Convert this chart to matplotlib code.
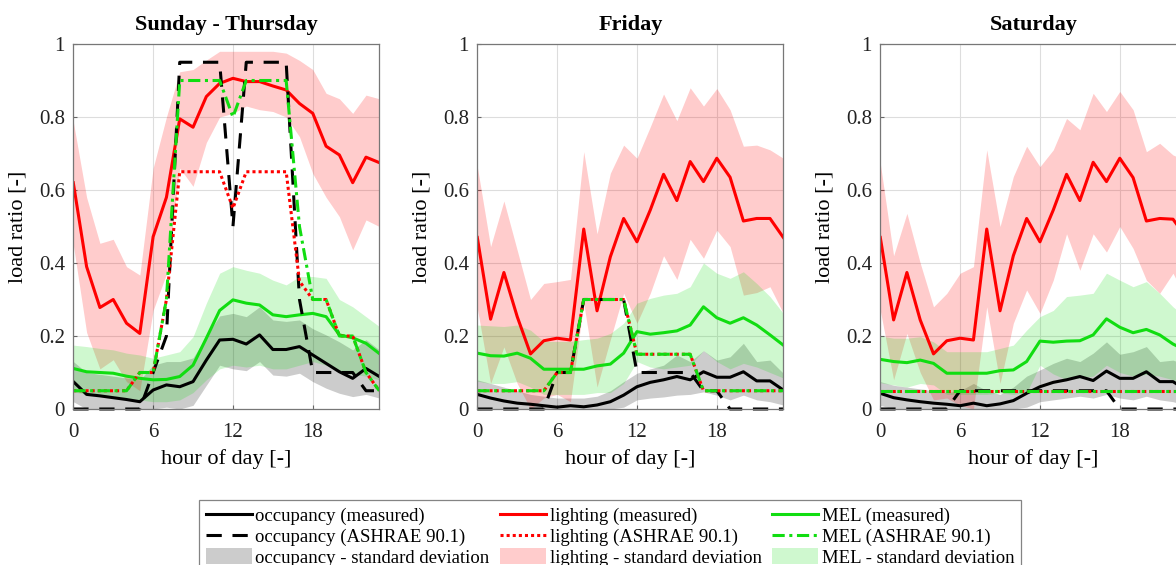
import numpy as np
import matplotlib
matplotlib.use("Agg")
import matplotlib.pyplot as plt
from matplotlib.lines import Line2D
from matplotlib.patches import Patch

plt.rcParams["font.family"] = ["Liberation Serif", "DejaVu Serif"]

hours = np.arange(24)

# ---- Sunday - Thursday ----
occ_mean_st = [0.075, 0.040, 0.036, 0.031, 0.026, 0.020, 0.052, 0.066, 0.061, 0.075, 0.134, 0.189,
               0.191, 0.178, 0.203, 0.163, 0.163, 0.171, 0.148, 0.125, 0.102, 0.084, 0.111, 0.089]
occ_hi_st = [0.130, 0.100, 0.095, 0.090, 0.085, 0.080, 0.120, 0.130, 0.130, 0.140, 0.200, 0.255,
             0.262, 0.253, 0.280, 0.244, 0.240, 0.244, 0.220, 0.203, 0.184, 0.162, 0.190, 0.162]
occ_lo_st = [0.020, 0.000, 0.000, 0.000, 0.000, 0.000, 0.000, 0.005, 0.000, 0.010, 0.065, 0.120,
             0.110, 0.105, 0.130, 0.093, 0.090, 0.098, 0.075, 0.057, 0.043, 0.034, 0.040, 0.030]
light_mean_st = [0.620, 0.390, 0.278, 0.300, 0.235, 0.207, 0.472, 0.580, 0.795, 0.772, 0.856, 0.892,
                 0.906, 0.897, 0.897, 0.885, 0.874, 0.837, 0.810, 0.720, 0.696, 0.620, 0.690, 0.675]
light_hi_st = [0.787, 0.580, 0.454, 0.465, 0.390, 0.367, 0.660, 0.800, 0.924, 0.930, 0.956, 0.980,
               0.980, 0.980, 0.980, 0.980, 0.975, 0.955, 0.930, 0.865, 0.850, 0.810, 0.860, 0.850]
light_lo_st = [0.450, 0.210, 0.110, 0.135, 0.075, 0.050, 0.270, 0.370, 0.660, 0.610, 0.730, 0.800,
               0.810, 0.830, 0.820, 0.815, 0.800, 0.746, 0.645, 0.580, 0.527, 0.436, 0.518, 0.500]
mel_mean_st = [0.111, 0.102, 0.100, 0.098, 0.090, 0.084, 0.080, 0.081, 0.089, 0.120, 0.194, 0.270,
               0.299, 0.290, 0.285, 0.258, 0.253, 0.258, 0.262, 0.253, 0.203, 0.195, 0.180, 0.152]
mel_hi_st = [0.175, 0.171, 0.166, 0.162, 0.153, 0.148, 0.139, 0.148, 0.157, 0.198, 0.290, 0.372,
             0.390, 0.380, 0.372, 0.353, 0.340, 0.363, 0.363, 0.358, 0.300, 0.280, 0.253, 0.226]
mel_lo_st = [0.047, 0.040, 0.040, 0.035, 0.030, 0.025, 0.020, 0.020, 0.025, 0.045, 0.080, 0.110,
             0.120, 0.115, 0.120, 0.110, 0.110, 0.120, 0.130, 0.120, 0.100, 0.095, 0.090, 0.080]
occ_ashrae_st = [0, 0, 0, 0, 0, 0, 0.1, 0.2, 0.95, 0.95, 0.95, 0.95,
                 0.5, 0.95, 0.95, 0.95, 0.95, 0.3, 0.1, 0.1, 0.1, 0.1, 0.05, 0.05]
light_ashrae_st = [0.05, 0.05, 0.05, 0.05, 0.05, 0.1, 0.1, 0.3, 0.65, 0.65, 0.65, 0.65,
                   0.55, 0.65, 0.65, 0.65, 0.65, 0.35, 0.3, 0.3, 0.2, 0.2, 0.1, 0.05]
mel_ashrae_st = [0.05, 0.05, 0.05, 0.05, 0.05, 0.1, 0.1, 0.3, 0.9, 0.9, 0.9, 0.9,
                 0.8, 0.9, 0.9, 0.9, 0.9, 0.5, 0.3, 0.3, 0.2, 0.2, 0.1, 0.05]

# ---- Friday ----
occ_mean_fr = [0.040, 0.030, 0.022, 0.016, 0.013, 0.009, 0.005, 0.009, 0.006, 0.011, 0.020, 0.038,
               0.061, 0.073, 0.080, 0.089, 0.080, 0.102, 0.087, 0.087, 0.102, 0.077, 0.077, 0.052]
occ_hi_fr = [0.080, 0.070, 0.060, 0.050, 0.040, 0.035, 0.030, 0.030, 0.030, 0.035, 0.050, 0.075,
             0.098, 0.110, 0.120, 0.148, 0.130, 0.160, 0.134, 0.143, 0.180, 0.130, 0.134, 0.098]
occ_lo_fr = [0.000, 0.000, 0.000, 0.000, 0.000, 0.000, 0.000, 0.000, 0.000, 0.000, 0.000, 0.005,
             0.025, 0.030, 0.033, 0.038, 0.040, 0.047, 0.038, 0.025, 0.038, 0.025, 0.020, 0.011]
light_mean_fr = [0.470, 0.246, 0.374, 0.253, 0.151, 0.187, 0.194, 0.189, 0.493, 0.269, 0.417, 0.522,
                 0.458, 0.545, 0.643, 0.571, 0.678, 0.623, 0.687, 0.635, 0.515, 0.522, 0.522, 0.470]
light_hi_fr = [0.664, 0.445, 0.570, 0.435, 0.300, 0.344, 0.349, 0.355, 0.705, 0.480, 0.646, 0.723,
               0.687, 0.773, 0.863, 0.790, 0.880, 0.830, 0.878, 0.820, 0.720, 0.723, 0.710, 0.687]
light_lo_fr = [0.276, 0.070, 0.170, 0.070, 0.000, 0.030, 0.040, 0.020, 0.290, 0.060, 0.190, 0.317,
               0.235, 0.317, 0.420, 0.355, 0.465, 0.413, 0.490, 0.445, 0.312, 0.319, 0.335, 0.262]
mel_mean_fr = [0.153, 0.146, 0.145, 0.153, 0.139, 0.109, 0.109, 0.109, 0.109, 0.118, 0.123, 0.153,
               0.212, 0.205, 0.209, 0.214, 0.230, 0.280, 0.250, 0.235, 0.250, 0.230, 0.203, 0.175]
mel_hi_fr = [0.230, 0.228, 0.226, 0.230, 0.216, 0.185, 0.185, 0.185, 0.190, 0.194, 0.207, 0.235,
             0.290, 0.303, 0.312, 0.317, 0.335, 0.400, 0.372, 0.358, 0.376, 0.344, 0.308, 0.262]
mel_lo_fr = [0.076, 0.070, 0.070, 0.075, 0.060, 0.040, 0.040, 0.040, 0.040, 0.045, 0.045, 0.070,
             0.130, 0.115, 0.110, 0.115, 0.120, 0.160, 0.130, 0.110, 0.125, 0.115, 0.100, 0.085]
occ_ashrae_fr = [0, 0, 0, 0, 0, 0, 0.1, 0.1, 0.3, 0.3, 0.3, 0.3,
                 0.1, 0.1, 0.1, 0.1, 0.1, 0.05, 0.05, 0, 0, 0, 0, 0]
light_ashrae_fr = [0.05, 0.05, 0.05, 0.05, 0.05, 0.05, 0.1, 0.1, 0.3, 0.3, 0.3, 0.3,
                   0.15, 0.15, 0.15, 0.15, 0.15, 0.05, 0.05, 0.05, 0.05, 0.05, 0.05, 0.05]
mel_ashrae_fr = [0.05, 0.05, 0.05, 0.05, 0.05, 0.05, 0.1, 0.1, 0.3, 0.3, 0.3, 0.3,
                 0.15, 0.15, 0.15, 0.15, 0.15, 0.05, 0.05, 0.05, 0.05, 0.05, 0.05, 0.05]

# ---- Saturday ----
occ_mean_sa = [0.043, 0.031, 0.025, 0.020, 0.016, 0.013, 0.009, 0.016, 0.009, 0.014, 0.023, 0.043,
               0.061, 0.073, 0.080, 0.089, 0.078, 0.104, 0.084, 0.084, 0.102, 0.075, 0.075, 0.052]
occ_hi_sa = [0.075, 0.065, 0.060, 0.055, 0.050, 0.045, 0.050, 0.070, 0.050, 0.040, 0.060, 0.090,
             0.107, 0.125, 0.139, 0.130, 0.153, 0.184, 0.150, 0.157, 0.171, 0.130, 0.134, 0.120]
occ_lo_sa = [0.010, 0.000, 0.000, 0.000, 0.000, 0.000, 0.000, 0.000, 0.000, 0.000, 0.000, 0.005,
             0.020, 0.025, 0.030, 0.035, 0.030, 0.040, 0.030, 0.025, 0.035, 0.025, 0.020, 0.010]
light_mean_sa = [0.470, 0.244, 0.374, 0.244, 0.151, 0.187, 0.194, 0.189, 0.493, 0.269, 0.420, 0.522,
                 0.458, 0.545, 0.643, 0.571, 0.676, 0.623, 0.687, 0.634, 0.515, 0.522, 0.520, 0.470]
light_hi_sa = [0.673, 0.420, 0.536, 0.400, 0.280, 0.317, 0.372, 0.390, 0.710, 0.500, 0.637, 0.720,
               0.664, 0.710, 0.796, 0.765, 0.865, 0.815, 0.870, 0.820, 0.705, 0.728, 0.696, 0.680]
light_lo_sa = [0.270, 0.080, 0.207, 0.100, 0.025, 0.030, 0.010, 0.000, 0.280, 0.070, 0.235, 0.326,
               0.262, 0.353, 0.480, 0.380, 0.480, 0.430, 0.500, 0.440, 0.353, 0.317, 0.372, 0.300]
mel_mean_sa = [0.136, 0.130, 0.127, 0.134, 0.125, 0.098, 0.098, 0.098, 0.098, 0.105, 0.107, 0.130,
               0.186, 0.183, 0.186, 0.187, 0.203, 0.247, 0.224, 0.209, 0.218, 0.203, 0.178, 0.160]
mel_hi_sa = [0.200, 0.194, 0.194, 0.198, 0.184, 0.157, 0.157, 0.157, 0.157, 0.166, 0.175, 0.216,
             0.253, 0.270, 0.308, 0.312, 0.317, 0.372, 0.353, 0.335, 0.349, 0.317, 0.280, 0.250]
mel_lo_sa = [0.072, 0.066, 0.060, 0.070, 0.066, 0.040, 0.040, 0.040, 0.040, 0.044, 0.040, 0.045,
             0.120, 0.096, 0.080, 0.085, 0.090, 0.120, 0.100, 0.090, 0.095, 0.090, 0.080, 0.070]
occ_ashrae_sa = [0, 0, 0, 0, 0, 0, 0.05, 0.05, 0.05, 0.05, 0.05, 0.05,
                 0.05, 0.05, 0.05, 0.05, 0.05, 0.05, 0, 0, 0, 0, 0, 0]
light_ashrae_sa = [0.05] * 24
mel_ashrae_sa = [0.05] * 24

panel_titles = ["Sunday - Thursday", "Friday", "Saturday"]
x_ticks = [0, 6, 12, 18]
y_ticks = [0, 0.2, 0.4, 0.6, 0.8, 1]
y_ticklabels = ["0", "0.2", "0.4", "0.6", "0.8", "1"]

panels = [
    dict(occ=(occ_mean_st, occ_lo_st, occ_hi_st, occ_ashrae_st),
         light=(light_mean_st, light_lo_st, light_hi_st, light_ashrae_st),
         mel=(mel_mean_st, mel_lo_st, mel_hi_st, mel_ashrae_st)),
    dict(occ=(occ_mean_fr, occ_lo_fr, occ_hi_fr, occ_ashrae_fr),
         light=(light_mean_fr, light_lo_fr, light_hi_fr, light_ashrae_fr),
         mel=(mel_mean_fr, mel_lo_fr, mel_hi_fr, mel_ashrae_fr)),
    dict(occ=(occ_mean_sa, occ_lo_sa, occ_hi_sa, occ_ashrae_sa),
         light=(light_mean_sa, light_lo_sa, light_hi_sa, light_ashrae_sa),
         mel=(mel_mean_sa, mel_lo_sa, mel_hi_sa, mel_ashrae_sa)),
]

c_occ = "black"
c_light = "#ff0000"
c_mel = "#11dd11"
fill_alpha = 0.2
lw = 2.2
ls_dash = (0, (5, 3.5))
ls_dot = (0, (1, 1))
ls_dashdot = (0, (4, 1.5, 1, 1.5))

W, H = 1176, 565
fig = plt.figure(figsize=(W / 100, H / 100), dpi=100)

ax_lefts = [73.3, 477.3, 880.3]
ax_w, ax_top, ax_bot = 306.0, 44.0, 409.0

for i, (left, title, p) in enumerate(zip(ax_lefts, panel_titles, panels)):
    ax = fig.add_axes([left / W, (H - ax_bot) / H, ax_w / W, (ax_bot - ax_top) / H])
    om, ol, oh, oa = p["occ"]
    lm, ll, lh, la = p["light"]
    mm, ml, mh, ma = p["mel"]
    ax.fill_between(hours, ol, oh, color=c_occ, alpha=fill_alpha, lw=0)
    ax.fill_between(hours, ll, lh, color=c_light, alpha=fill_alpha, lw=0)
    ax.fill_between(hours, ml, mh, color=c_mel, alpha=fill_alpha, lw=0)
    ax.plot(hours, om, color=c_occ, lw=lw)
    ax.plot(hours, lm, color=c_light, lw=lw)
    ax.plot(hours, mm, color=c_mel, lw=lw)
    ax.plot(hours, oa, color=c_occ, lw=lw, ls=ls_dash, clip_on=False)
    ax.plot(hours, la, color=c_light, lw=lw, ls=ls_dot)
    ax.plot(hours, ma, color=c_mel, lw=lw, ls=ls_dashdot)
    ax.set_xlim(0, 23)
    ax.set_ylim(0, 1)
    ax.set_xticks(x_ticks)
    ax.set_yticks(y_ticks)
    ax.set_yticklabels(y_ticklabels)
    ax.tick_params(direction="in", length=3, labelsize=15, colors="#222222",
                   color="#666666")
    ax.tick_params(axis="y", pad=6)
    ax.tick_params(axis="x", pad=10)
    ax.grid(True, color="#dddddd", lw=0.8)
    ax.set_axisbelow(True)
    for s in ax.spines.values():
        s.set_color("#777777")
        s.set_linewidth(0.9)
    ax.set_title(title, fontsize=16, fontweight="bold", pad=10)
    ax.set_xlabel("hour of day [-]", fontsize=16, labelpad=5)
    ax.set_ylabel("load ratio [-]", fontsize=16, labelpad=8)

handles = [
    Line2D([], [], color=c_occ, lw=lw),
    Line2D([], [], color=c_occ, lw=lw, ls=ls_dash),
    Patch(facecolor=c_occ, alpha=fill_alpha, lw=0),
    Line2D([], [], color=c_light, lw=lw),
    Line2D([], [], color=c_light, lw=lw, ls=ls_dot),
    Patch(facecolor=c_light, alpha=fill_alpha, lw=0),
    Line2D([], [], color=c_mel, lw=lw),
    Line2D([], [], color=c_mel, lw=lw, ls=ls_dashdot),
    Patch(facecolor=c_mel, alpha=fill_alpha, lw=0),
]
labels = [
    "occupancy (measured)", "occupancy (ASHRAE 90.1)", "occupancy - standard deviation",
    "lighting (measured)", "lighting (ASHRAE 90.1)", "lighting - standard deviation",
    "MEL (measured)", "MEL (ASHRAE 90.1)", "MEL - standard deviation",
]
leg = fig.legend(handles, labels, ncol=3, loc="upper left",
                 bbox_to_anchor=(199 / W, 1 - 500 / H), fontsize=13.5,
                 frameon=True, fancybox=False, edgecolor="#666666",
                 handlelength=2.45, handleheight=0.95, handletextpad=0.2,
                 columnspacing=0.55, labelspacing=0.12, borderpad=0.35,
                 borderaxespad=0)
leg.get_frame().set_linewidth(0.9)

fig.savefig("out.png", dpi=100)
